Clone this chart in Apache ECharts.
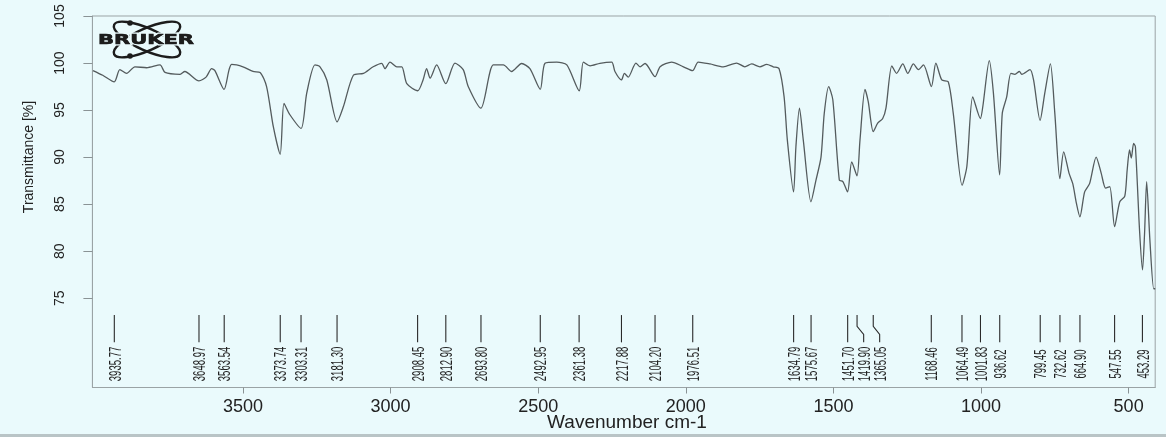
<!DOCTYPE html>
<html><head><meta charset="utf-8">
<script src="https://cdn.jsdelivr.net/npm/echarts@6/dist/echarts.min.js"></script>
<style>html,body{margin:0;padding:0;background:#eafafc;}#c{width:1166px;height:437px;}</style>
</head><body><div id="c"></div>
<script>
// Wavenumber (cm-1) and transmittance (%)
const WAVENUMBER = [4008,3975,3936,3917,3894,3866,3826,3781,3764,3713,3697,3649,3625,3606,3595,3564,3547,3538,3500,3466,3442,3420,3397,3374,3361,3341,3303,3284,3256,3239,3216,3181,3160,3126,3092,3059,3030,3019,3002,2979,2962,2945,2908,2890,2878,2866,2844,2813,2782,2754,2737,2694,2652,2618,2590,2556,2528,2493,2477,2437,2403,2361,2347,2324,2291,2251,2240,2218,2208,2195,2169,2155,2138,2104,2087,2048,2008,1977,1958,1918,1873,1828,1800,1777,1749,1726,1704,1684,1667,1656,1635,1627,1615,1602,1576,1559,1542,1531,1516,1502,1480,1468,1452,1438,1420,1410,1393,1382,1365,1350,1333,1322,1302,1286,1265,1248,1229,1212,1195,1168,1153,1133,1111,1094,1064,1048,1028,1002,994,972,958,937,928,913,899,885,870,862,834,822,800,784,765,750,733,720,702,689,677,665,649,632,610,593,578,564,547.5,530,513,505,497,491,483,477,463,453,446,439,428,415,410];
const TRANSMITTANCE = [99.2,98.7,98.0,99.3,98.9,99.6,99.5,99.8,99.0,98.8,99.1,98.1,98.5,99.4,99.2,97.2,99.3,99.85,99.6,99.1,99.0,97.5,93.2,90.3,95.7,94.5,93.05,96.8,99.8,99.6,98.2,93.75,95.35,98.7,98.9,99.6,99.97,99.4,100.1,99.6,99.6,97.8,97.05,98.2,99.4,98.4,99.8,97.8,100.0,99.3,97.5,95.2,99.8,99.8,99.1,99.95,99.4,97.2,99.97,100.1,99.8,97.05,100.1,99.7,99.97,100.1,99.1,98.2,98.9,98.5,100.0,99.6,99.95,98.55,99.6,100.1,99.6,99.2,100.1,99.9,99.6,100.0,99.6,99.9,99.6,99.85,99.6,99.4,96.4,91.8,86.3,91.1,95.2,91.8,85.25,87.55,90.0,94.65,97.5,96.1,87.55,87.4,86.3,89.5,88.0,91.8,97.2,95.9,92.7,93.6,94.1,95.2,99.7,98.9,99.9,98.9,99.9,99.3,99.8,97.5,100.0,98.2,98.0,94.65,87.0,89.0,96.4,94.1,95.35,100.25,96.8,88.1,94.65,96.4,98.9,98.8,99.1,98.8,99.3,98.2,93.9,96.8,99.9,94.65,87.7,90.55,88.3,87.15,85.1,83.65,86.3,87.2,90.0,88.3,86.7,86.85,82.6,85.25,85.85,88.6,90.75,89.9,91.45,91.1,82.2,78.0,81.9,87.4,81.2,76.0,76.0];
// Labelled peak positions
const PEAKS = [3935.77,3648.97,3563.54,3373.74,3303.31,3181.30,2908.45,2812.90,2693.80,2492.95,2361.38,2217.88,2104.20,1976.51,1634.79,1575.67,1451.70,1419.90,1365.05,1168.46,1064.49,1001.83,936.62,799.45,732.62,664.90,547.55,453.29];
const Y_TICKS = [75,80,85,90,95,100,105];
const X_TICKS = [500,1000,1500,2000,2500,3000,3500];

// annotation layout levels (in % transmittance units)
const LINE_TOP_T = 73.2, KINK1_T = 72.0, KINK2_T = 71.15, LINE_BOTTOM_T = 70.3, LABEL_T = 68.0;
const MIN_GAP = 16;

const chart = echarts.init(document.getElementById('c'), null, {renderer:'canvas'});
const FONT = 'Liberation Sans, Arial, sans-serif';

function labelLayout(api){
  const xs = PEAKS.map(p => api.coord([p, 75])[0]);
  const order = xs.map((x,i)=>i).sort((a,b)=>xs[a]-xs[b]);
  const lx = xs.slice();
  let prev = -Infinity;
  order.forEach(i => { lx[i] = Math.max(xs[i], prev + MIN_GAP); prev = lx[i]; });
  return {xs, lx};
}

const option = {
  backgroundColor: '#eafafc',
  animation: false,
  grid: {left: 92.4, right: 10.8, top: 16, bottom: 49.5, show: true, borderColor: '#9aa3a5', borderWidth: 1},
  xAxis: {
    type: 'value', inverse: true, min: 410, max: 4010,
    axisLine: {show: true, lineStyle: {color: '#9aa3a5'}},
    axisTick: {show: true, length: 6, customValues: X_TICKS, lineStyle: {color: '#8a9395'}},
    axisLabel: {customValues: X_TICKS, formatter: v => String(v), fontSize: 18, fontFamily: FONT, color: '#222', margin: 11},
    splitLine: {show: false}
  },
  yAxis: {
    type: 'value', min: 65.5, max: 105,
    axisLine: {show: true, lineStyle: {color: '#9aa3a5'}},
    axisTick: {show: true, length: 9, customValues: Y_TICKS, lineStyle: {color: '#8a9395'}},
    axisLabel: {customValues: Y_TICKS, formatter: v => String(v), rotate: 90, fontSize: 14, fontFamily: FONT, color: '#222', margin: 25},
    splitLine: {show: false}
  },
  graphic: [
    {type:'text', x: 29, y: 157, rotation: Math.PI/2, style:{text:'Transmittance [%]', font:'14px ' + FONT, fill:'#222', align:'center', verticalAlign:'middle'}},
    {type:'text', x: 627, y: 423, style:{text:'Wavenumber cm-1', font:'19px ' + FONT, fill:'#222', align:'center', verticalAlign:'middle'}},
    {type:'ellipse', x: 147, y: 39.5, rotation: 0.42, shape:{cx:0, cy:0, rx:36, ry:11}, style:{stroke:'#1c1c1c', lineWidth:2.4, fill:null}},
    {type:'ellipse', x: 147, y: 39.5, rotation: -0.42, shape:{cx:0, cy:0, rx:36, ry:11}, style:{stroke:'#1c1c1c', lineWidth:2.4, fill:null}},
    {type:'circle', shape:{cx:130, cy:23, r:2.8}, style:{fill:'#1c1c1c'}},
    {type:'circle', shape:{cx:130, cy:56, r:2.8}, style:{fill:'#1c1c1c'}},
    {type:'text', x: 146, y: 40.5, scaleX: 1.5, style:{text:'BRUKER', font:'bold 14px DejaVu Sans, ' + FONT, fill:'#1c1c1c', align:'center', verticalAlign:'middle', stroke:'#eafafc', lineWidth:3}},
    {type:'text', x: 146, y: 40.5, scaleX: 1.5, style:{text:'BRUKER', font:'bold 14px DejaVu Sans, ' + FONT, fill:'#1c1c1c', align:'center', verticalAlign:'middle', stroke:'#1c1c1c', lineWidth:0.6}},
    {type:'rect', shape:{x:0, y:434, width:1166, height:3}, style:{fill:'#b9c4c6'}}
  ],
  series: [
    {
      type: 'line', data: WAVENUMBER.map((w,i)=>[w, TRANSMITTANCE[i]]),
      showSymbol: false, smooth: 0.25, silent: true,
      lineStyle: {color: '#545b5d', width: 1.3}
    },
    {
      type: 'custom', coordinateSystem: 'cartesian2d', silent: true,
      dimensions: ['w'], encode: {x: 0},
      data: PEAKS.map(p => [p]),
      renderItem: function(params, api){
        const i = params.dataIndex;
        const L = labelLayout(api);
        const p = PEAKS[i];
        const x = L.xs[i], lx = L.lx[i];
        const yTop = api.coord([p, LINE_TOP_T])[1];
        const yK1 = api.coord([p, KINK1_T])[1];
        const yK2 = api.coord([p, KINK2_T])[1];
        const yBot = api.coord([p, LINE_BOTTOM_T])[1];
        const yLab = api.coord([p, LABEL_T])[1];
        const pts = (Math.abs(lx - x) < 0.5) ? [[x,yTop],[x,yBot]] : [[x,yTop],[x,yK1],[lx,yK2],[lx,yBot]];
        return {type:'group', children:[
          {type:'polyline', shape:{points:pts}, style:{stroke:'#2a2a2a', lineWidth:1.1, fill:null}},
          {type:'text', x: lx + 1.5, y: yLab, rotation: Math.PI/2, scaleX: 0.56,
           style:{text: p.toFixed(2), fontSize: 17, fontFamily: FONT, fill:'#222', align:'center', verticalAlign:'middle'}}
        ]};
      }
    }
  ]
};
chart.setOption(option);
</script>
</body></html>
